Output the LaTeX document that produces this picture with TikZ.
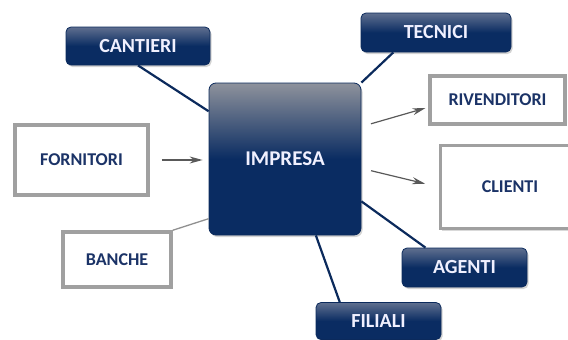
\documentclass[tikz,border=0pt]{standalone}
\usepackage{fontspec}
\setmainfont{Carlito}
\usetikzlibrary{shadows,arrows.meta}

\definecolor{navy}{HTML}{0A2C62}
\definecolor{navyline}{HTML}{0B2A5C}
\definecolor{topgray}{HTML}{8E929C}
\definecolor{boxgray}{HTML}{5F6F8F}
\definecolor{framegray}{HTML}{A0A0A0}
\definecolor{textnavy}{HTML}{1B3367}

\tikzset{
  darkbox/.style={draw=navyline, line width=0.8pt, rounded corners=5pt,
    top color=boxgray, bottom color=navy, middle color=navy,
    text=white!94!blue, font=\bfseries\fontsize{20}{24}\selectfont,
    drop shadow={shadow xshift=1.5pt, shadow yshift=-2pt, opacity=0.35},
    inner sep=0pt},
  bigbox/.style={darkbox, top color=topgray, bottom color=navy, middle color=navy,
    rounded corners=7pt, font=\bfseries\fontsize{21}{25}\selectfont},
  whitebox/.style={draw=framegray, line width=3.5pt, fill=white,
    text=textnavy, font=\bfseries\fontsize{18}{22}\selectfont,
    drop shadow={shadow xshift=1.5pt, shadow yshift=-2pt, opacity=0.3},
    inner sep=0pt},
  link/.style={draw=navyline, line width=2.2pt},
  graylink/.style={draw=framegray!90!black, line width=1.3pt},
  grayarrow/.style={draw=black!65, line width=1.2pt,
    -{Stealth[length=13pt,width=7pt]}}
}

\begin{document}
\begin{tikzpicture}[x=1pt,y=-1pt]
    \useasboundingbox (0,0) rectangle (568,340);

    % 中心方框
    \node[bigbox, minimum width=152pt, minimum height=152pt] (impresa) at (285,159) {IMPRESA};

    % 深色方框
    \node[darkbox, minimum width=144pt, minimum height=38pt] (cantieri) at (138,46) {CANTIERI};
    \node[darkbox, minimum width=150pt, minimum height=39pt] (tecnici) at (436,32.5) {TECNICI};
    \node[darkbox, minimum width=125pt, minimum height=39pt] (agenti) at (464.5,267.5) {AGENTI};
    \node[darkbox, minimum width=125pt, minimum height=37pt] (filiali) at (378.5,321) {FILIALI};

    % 白色方框
    \node[whitebox, minimum width=133pt, minimum height=70pt] (fornitori) at (81.5,160) {FORNITORI};
    \node[whitebox, minimum width=108pt, minimum height=55pt] (banche) at (117,259.5) {BANCHE};
    \node[whitebox, minimum width=135pt, minimum height=48pt] (rivenditori) at (497.5,100) {RIVENDITORI};
    \node[whitebox, minimum width=139pt, minimum height=83pt] (clienti) at (510,187) {CLIENTI};

    % 连线
    \draw[link] (cantieri.south) -- (impresa.148);
    \draw[link] (tecnici.205) -- (impresa.north east);
    \draw[link] (impresa.-29) -- (agenti.153);
    \draw[link] (impresa.292) -- (filiali.154);
    \draw[graylink] (banche.north east) -- (impresa.218);

    % 箭头
    \draw[grayarrow, shorten <=10pt, shorten >=3pt] (impresa.23) -- (rivenditori.186);
    \draw[grayarrow, shorten <=10pt, shorten >=14pt] (impresa.-7) -- (clienti.west);
    \draw[grayarrow, shorten <=12pt, shorten >=6pt] (fornitori.east) -- (fornitori.east -| impresa.west);
\end{tikzpicture}
\end{document}
